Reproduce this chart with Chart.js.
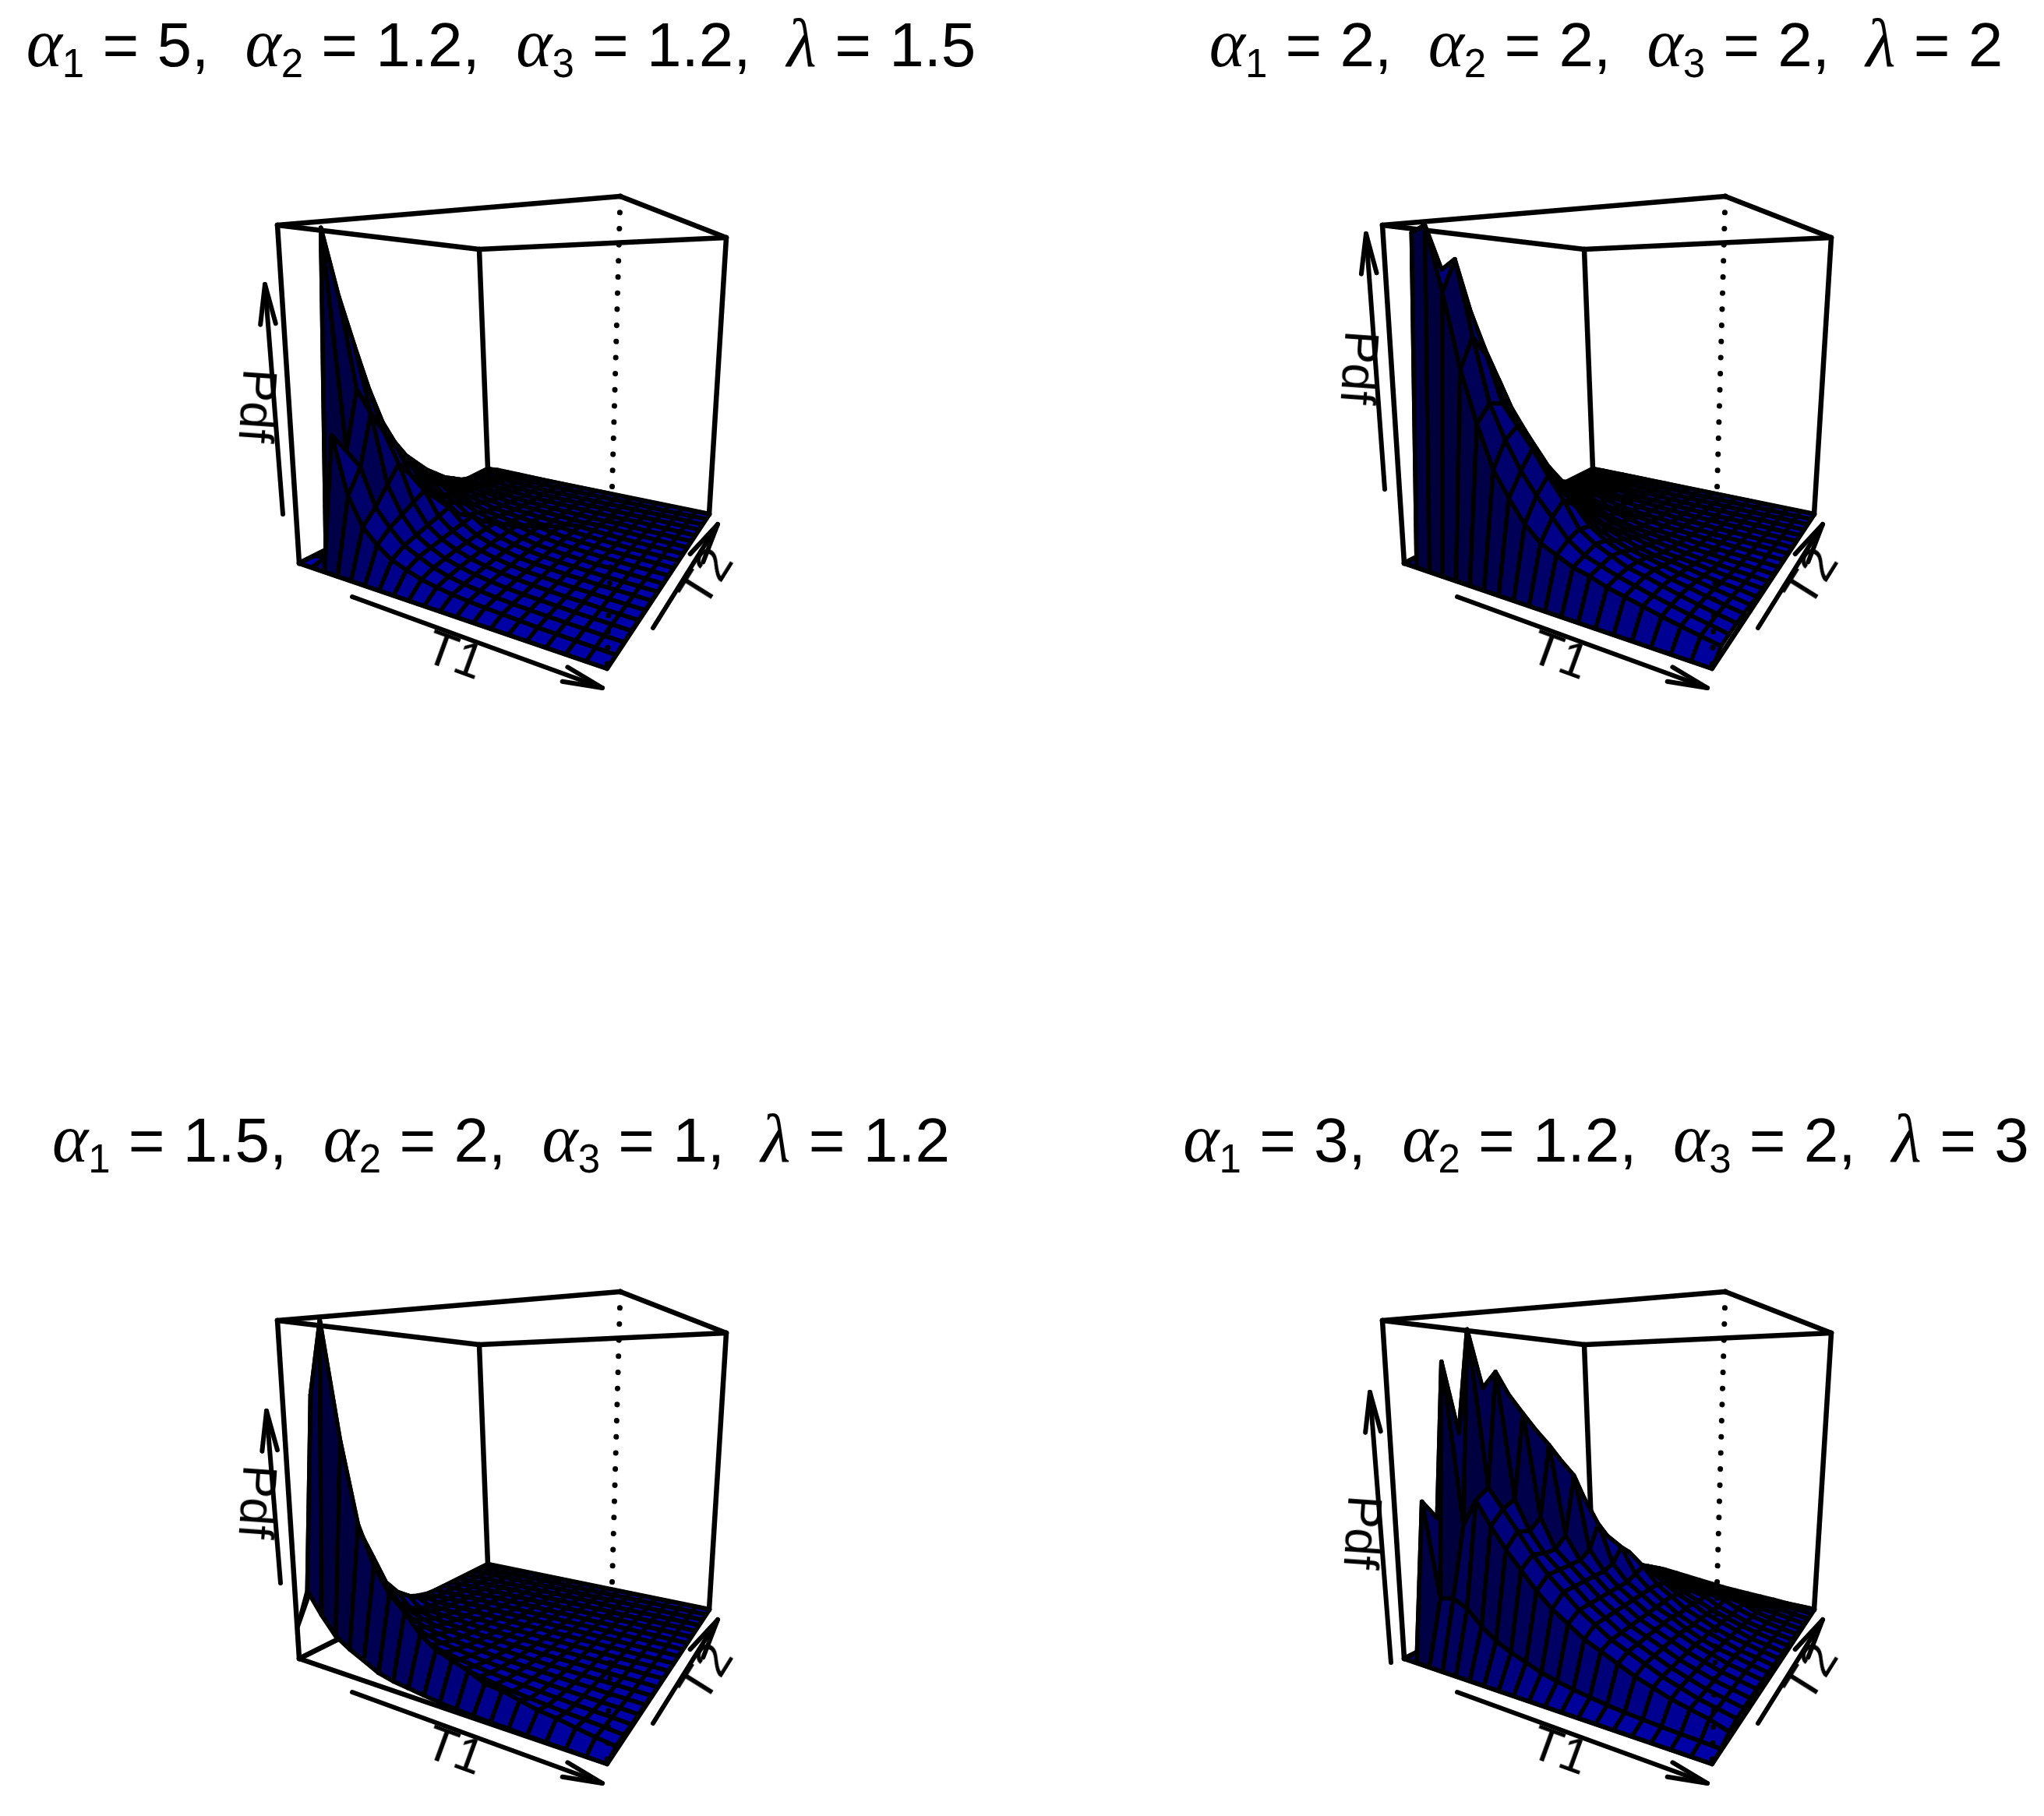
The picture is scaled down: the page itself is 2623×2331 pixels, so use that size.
<!DOCTYPE html>
<html lang="en">
<head>
<meta charset="UTF-8">
<title>Joint pdf surfaces</title>
<script src="https://cdn.jsdelivr.net/npm/chart.js"></script>
<style>
    html, body { margin: 0; background: #fff; }
    #page { position: relative; width: 2623px; height: 2331px; overflow: hidden; }
    canvas { position: absolute; }
    .title, .axis { position: absolute; font-family: "Liberation Sans", Arial, sans-serif; color: #000; white-space: pre; }
    .title { font-size: 80px; line-height: 80px; word-spacing: 1px; transform: translateX(-50%); }
    .title i { font-family: "Liberation Serif", serif; font-size: 88px; }
    .title sub { font-size: 51px; line-height: 0; vertical-align: -14px; }
    .axis { font-size: 63px; line-height: 63px; transform: translate(-50%, -50%) rotate(var(--rot)); }
</style>
</head>
<body>
<div id="page"></div>
<script>
// parameter sets shown above each panel: alpha1, alpha2, alpha3, lambda
const alpha1 = ['5', '2', '1.5', '3'];
const alpha2 = ['1.2', '2', '2', '1.2'];
const alpha3 = ['1.2', '2', '1', '2'];
const lambda = ['1.5', '2', '1.2', '3'];

// surface heights, % of the box height
// one line per T1 grid step, 20 values along T2
const pdfA = [
[0,0,0,0,0,0,0,0,0,0,0,0,0,0,0,0,0,0,0,0],
[0,1,100,79,63,48,36,28,22,18,14,11,8,6,4,3,2,1.5,1,.5],
[0,38,32,50,42,34,27,21,17,14,11,8,6,4.5,3,2,1.5,1,.7,.4],
[0,21,28,43,36,30,24,19,15,12,9,7,5,4,3,2,1.5,1,.7,.4],
[0,13,17,22,27,22,18,14,11,9,7,5,4,3,2,1.5,1,.8,.5,.3],
[0,9,12,14,16,18,14,11,9,7,5,4,3,2.3,1.7,1.2,.9,.6,.4,.2],
[0,6,8,9,10,11,12,8,6,5,3.6,2.8,2.2,1.7,1.2,.9,.6,.4,.3,.2],
[0,4.5,6,6.5,7,7.5,8,8.5,5,3.8,3,2.3,1.8,1.3,1,.7,.5,.3,.2,.1],
[0,3.2,4.2,4.6,5,5.2,5.4,5.5,5.5,3,2.3,1.8,1.4,1.1,.8,.6,.4,.3,.2,.1],
[0,2.4,3,3.4,3.6,3.8,3.9,3.9,3.9,3.8,1.8,1.4,1.1,.9,.6,.5,.3,.2,.1,.1],
[0,1.8,2.2,2.5,2.7,2.8,2.8,2.8,2.8,2.7,2.6,1.1,.9,.7,.5,.4,.3,.2,.1,.1],
[0,1.4,1.7,1.9,2,2,2,2,1.9,1.9,1.8,1.7,.7,.5,.4,.3,.2,.1,.1,.1],
[0,1.1,1.3,1.4,1.5,1.5,1.5,1.5,1.4,1.4,1.3,1.2,1.1,.4,.3,.2,.2,.1,.1,0],
[0,.9,1,1.1,1.2,1.2,1.2,1.1,1.1,1,1,.9,.8,.7,.3,.2,.1,.1,.1,0],
[0,.7,.8,.9,.9,.9,.9,.9,.8,.8,.7,.7,.6,.5,.5,.2,.1,.1,.1,0],
[0,.5,.6,.7,.7,.7,.7,.7,.6,.6,.5,.5,.4,.4,.3,.3,.1,.1,0,0],
[0,.4,.5,.5,.6,.6,.5,.5,.5,.4,.4,.3,.3,.3,.2,.2,.2,.1,0,0],
[0,.3,.4,.4,.4,.4,.4,.4,.3,.3,.3,.3,.2,.2,.2,.1,.1,.1,0,0],
[0,.2,.3,.3,.3,.3,.3,.3,.2,.2,.2,.2,.2,.1,.1,.1,.1,0,0,0],
[0,.1,.2,.2,.2,.2,.2,.2,.1,.1,.1,.1,.1,.1,.1,0,0,0,0,0]
];
const pdfB = [
[0,0,0,0,0,0,0,0,0,0,0,0,0,0,0,0,0,0,0,0],
[0,98,92,84,72,62,50,40,30,20,13,10,7,5,3,2,1.5,1,.5,.2],
[0,100,87,76,66,55,45,35,26,18,12,9,6,4,3,2,1.5,1,.5,.2],
[0,80,90,74,62,52,42,33,24,17,12,8,6,4,3,2,1.5,1,.5,.2],
[0,58,67,61,48,42,35,28,21,15,10,7,5,4,3,2,1.5,1,.5,.2],
[0,43,48,47,38,32,27,22,17,12,9,6,5,3.5,2.5,2,1.2,.8,.5,.2],
[0,31,38,41,30,25,21,17,13,10,7,5,4,3,2,1.5,1,.7,.4,.2],
[0,24,30,35,26,20,16,13,10,8,6,4,3,2.5,2,1.3,1,.6,.4,.2],
[0,18,24,28,23,17,13,10,8,6,5,3.5,2.5,2,1.5,1,.8,.5,.3,.1],
[0,14,19,22,19,14,11,8,6.5,5,4,3,2,1.6,1.2,.9,.6,.4,.3,.1],
[0,12,14,15,14,11,9,7,5.5,4,3,2.5,1.8,1.4,1,.7,.5,.4,.2,.1],
[0,10,11,12,11,9,7.5,6,4.5,3.5,2.5,2,1.5,1.1,.8,.6,.4,.3,.2,.1],
[0,9,9.5,10,9,7.5,6,5,3.8,3,2.2,1.7,1.3,.9,.7,.5,.4,.3,.2,.1],
[0,7.5,8,8,7.5,6.5,5,4,3.2,2.5,1.9,1.4,1,.8,.6,.4,.3,.2,.1,.1],
[0,6.5,6.8,7,6.5,5.5,4.5,3.5,2.7,2,1.5,1.2,.9,.6,.5,.3,.2,.2,.1,.1],
[0,5.5,5.7,5.8,5.3,4.5,3.8,3,2.2,1.7,1.3,1,.7,.5,.4,.3,.2,.1,.1,0],
[0,4.5,4.7,4.7,4.4,3.8,3,2.4,1.8,1.4,1,.8,.6,.4,.3,.2,.2,.1,.1,0],
[0,3.6,3.7,3.7,3.4,3,2.4,1.9,1.4,1.1,.8,.6,.5,.3,.2,.2,.1,.1,0,0],
[0,2.8,2.9,2.8,2.6,2.3,1.9,1.5,1.1,.8,.6,.5,.4,.3,.2,.1,.1,.1,0,0],
[0,2,2,2,1.8,1.5,1.2,1,.7,.5,.4,.3,.2,.1,.1,.1,0,0,0,0]
];
const pdfC = [
[9,18,24,26,24,18,12,8,6,3,1.5,.5,.2,.1,0,0,0,0,0,0],
[21,78,60,46,34,24,14,9,6,3.5,1.5,.6,.4,.3,.2,.1,.1,.1,0,0],
[15,100,48,30,20,13,8,4.5,2.5,1.5,1,.7,.5,.3,.2,.2,.1,.1,0,0],
[10,65,30,19,13,9,6,4,2.5,1.6,1,.8,.5,.4,.3,.2,.1,.1,0,0],
[7.5,41,20,13,9,6.5,4.5,3,2,1.4,1,.7,.5,.4,.3,.2,.1,.1,.1,0],
[5.5,30,14,9.5,7,5,3.5,2.5,1.8,1.2,.9,.7,.5,.4,.3,.2,.1,.1,.1,0],
[3.5,23,11,7.5,5.5,4,3,2.1,1.5,1.1,.8,.6,.4,.3,.2,.2,.1,.1,.1,0],
[2.5,19,9,6,4.5,3.3,2.5,1.8,1.3,1,.7,.5,.4,.3,.2,.2,.1,.1,.1,0],
[2,14,7.5,5,3.8,2.8,2.1,1.5,1.1,.8,.6,.5,.3,.3,.2,.1,.1,.1,0,0],
[1.5,11,6,4.2,3.2,2.4,1.8,1.3,1,.7,.5,.4,.3,.2,.2,.1,.1,.1,0,0],
[1,9.5,5,3.6,2.7,2,1.5,1.1,.8,.6,.5,.4,.3,.2,.1,.1,.1,0,0,0],
[.7,8,4.3,3,2.3,1.7,1.3,1,.7,.5,.4,.3,.2,.2,.1,.1,.1,0,0,0],
[.5,6,3.6,2.6,2,1.5,1.1,.8,.6,.5,.4,.3,.2,.1,.1,.1,0,0,0,0],
[.4,5.5,3,2.2,1.7,1.3,.9,.7,.5,.4,.3,.2,.2,.1,.1,.1,0,0,0,0],
[.3,4.5,2.6,1.9,1.4,1.1,.8,.6,.4,.3,.3,.2,.1,.1,.1,0,0,0,0,0],
[.2,3.5,2.2,1.6,1.2,.9,.7,.5,.4,.3,.2,.2,.1,.1,.1,0,0,0,0,0],
[.1,3,1.8,1.3,1,.8,.6,.4,.3,.2,.2,.1,.1,.1,0,0,0,0,0,0],
[.1,2.2,1.5,1.1,.8,.6,.5,.3,.3,.2,.1,.1,.1,0,0,0,0,0,0,0],
[0,1.5,1.2,.9,.7,.5,.4,.3,.2,.2,.1,.1,.1,0,0,0,0,0,0,0],
[0,1,.8,.6,.5,.4,.3,.2,.2,.1,.1,.1,0,0,0,0,0,0,0,0]
];
const pdfD = [
[0,0,0,0,0,0,0,0,0,0,0,0,0,0,0,0,0,0,0,0],
[0,46,40,36,32,28,24,20,17,14,12,10,8,7,6,5,4.5,4,3,2.5],
[0,18,88,66,52,43,36,30,25,21,18,15,13,11,9,8,7,6,5,3],
[0,19,39,98,80,60,47,38,32,27,23,19,16,13,11,10,8,7,6,4],
[0,17,47,50,85,78,58,44,35,29,24,20,17,14,12,10,9,7,6,4],
[0,13,40,44,46,72,67,50,38,30,25,21,17,15,12,10,9,7,6,4],
[0,10,34,38,37,40,62,57,43,33,27,22,18,15,13,10,9,7,6,4],
[0,8,29,32,31,31,34,52,44,33,26,22,18,15,13,11,9,7,6,4],
[0,6.5,24,27,27,27,27,29,36,31,25,21,17,15,13,11,9,7,5,3.5],
[0,5,20,23,23,23,23,23,24,28,25,19,16,14,12,10,8,6,4.5,3],
[0,4,17,19,19,19,19,19,19,20,21,18,14,12,10,8.5,7,5.5,4,2.5],
[0,3.2,14,16,16,16,16,16,16,16,16,15,13,10,8.5,7,5.5,4.5,3,2],
[0,2.6,12,13,13,13,13,13,13,13,13,12,11,10,7.5,6,4.5,3.5,2.5,1.5],
[0,2,10,11,11,11,11,11,11,10,10,10,9,9,8,5,3.8,3,2,1.2],
[0,1.6,8,9,9,9,9,9,8.5,8,8,7.5,7,6.5,7,6,3,2.4,1.6,1],
[0,1.3,6.5,7,7,7,7,7,6.5,6.5,6,6,5.5,5,5,5,3.5,1.8,1.2,.8],
[0,1,5,5.5,5.5,5.5,5.5,5.5,5,5,4.5,4.5,4,3.5,3.5,3,2.5,2,1,.6],
[0,.8,4,4,4,4,4,4,4,3.5,3.5,3,3,2.5,2.5,2,2,1.5,.8,.3],
[0,.6,3,3,3,3,3,3,2.8,2.6,2.4,2.2,2,1.8,1.6,1.4,1.2,1,.8,.2],
[0,.4,1.5,2,2,2,2,2,1.8,1.6,1.5,1.3,1.2,1,.9,.7,.6,.4,.3,.1]
];
const surfaces = [pdfA, pdfB, pdfC, pdfD];

// panel layout
const panelX = [0, 1418, 0, 1418];
const panelY = [0, 0, 1406, 1406];
const panelW = [1418, 1205, 1418, 1205];
const panelH = [1406, 1406, 925, 925];

// the persp view: box corners on screen (A, B, C, D), floor and top
const floorQuad = [[384, 723], [779, 858], [910, 660], [626, 602]];
const topQuad = [[356, 289], [796, 252], [932, 305], [615, 320]];

// Pdf axis arrow differs per panel: tail, head, label centre
const pdfArrow = [
    [[363, 660], [340, 365], [331, 521]],
    [[359, 628], [335, 300], [327, 472]],
    [[360, 626], [342, 405], [331, 522]],
    [[367, 728], [340, 381], [331, 561]]
];
const t1Arrow = [[452, 766], [773, 883]];
const t2Arrow = [[838, 806], [921, 673]];

const BOX_LINE = 6.5;
const MESH_LINE = 5.5;

// unit square to quad, projective
function quadPoint(q, u, v) {
    const [p0, p1, p2, p3] = q;
    const sx = p0[0] - p1[0] + p2[0] - p3[0], sy = p0[1] - p1[1] + p2[1] - p3[1];
    const dx1 = p1[0] - p2[0], dx2 = p3[0] - p2[0], dy1 = p1[1] - p2[1], dy2 = p3[1] - p2[1];
    const den = dx1 * dy2 - dx2 * dy1;
    const g = (sx * dy2 - dx2 * sy) / den, h = (dx1 * sy - sx * dy1) / den;
    const a = p1[0] - p0[0] + g * p1[0], b = p3[0] - p0[0] + h * p3[0];
    const d = p1[1] - p0[1] + g * p1[1], e = p3[1] - p0[1] + h * p3[1];
    const w = g * u + h * v + 1;
    return [(a * u + b * v + p0[0]) / w, (d * u + e * v + p0[1]) / w];
}

// T1 (u), T2 (v) and Pdf (w), all 0..1, to page position in the panel
function project(u, v, w) {
    const f = quadPoint(floorQuad, u, v), t = quadPoint(topQuad, u, v);
    return { x: f[0] + (t[0] - f[0]) * w, y: f[1] + (t[1] - f[1]) * w };
}

function lineSet(points, extra) {
    return Object.assign({
        data: points, showLine: true, fill: false, borderColor: '#000', borderWidth: BOX_LINE,
        pointRadius: 0, clip: false, borderCapStyle: 'round', borderJoinStyle: 'round'
    }, extra || {});
}

function arrowSets(tail, head) {
    const ang = Math.atan2(head[1] - tail[1], head[0] - tail[0]);
    const barb = s => ({ x: head[0] - 52 * Math.cos(ang + s), y: head[1] - 52 * Math.sin(ang + s) });
    const tip = { x: head[0], y: head[1] };
    return [
        lineSet([{ x: tail[0], y: tail[1] }, tip], { borderWidth: 6 }),
        lineSet([barb(0.19), tip, barb(-0.19)], { borderWidth: 6 })
    ];
}

// flat facets come out bright, steep ones dark
function facetColor(z, i, j, n) {
    const K = 0.6 * (n - 1) / 100;
    const dzu = (z[i + 1][j] + z[i + 1][j + 1] - z[i][j] - z[i][j + 1]) / 2 * K;
    const dzv = (z[i][j + 1] + z[i + 1][j + 1] - z[i][j] - z[i + 1][j]) / 2 * K;
    const len = Math.hypot(dzu, dzv, 1);
    const cos = (0.3 * dzu - 0.3 * dzv + 0.9) / len;
    const b = Math.round(178 * Math.pow((1 + cos) / 2, 1.1));
    return 'rgb(0,0,' + b + ')';
}

function buildDatasets(k) {
    const z = surfaces[k], n = z.length;
    const back = [];
    const corners = [[0, 0, 0], [1, 0, 0], [1, 1, 0], [0, 1, 0], [0, 0, 1], [1, 0, 1], [1, 1, 1], [0, 1, 1]]
        .map(c => project(c[0], c[1], c[2]));
    [[0, 1], [1, 2], [2, 3], [3, 0], [4, 5], [5, 6], [6, 7], [7, 4], [0, 4], [2, 6], [3, 7]].forEach(e => {
        back.push(lineSet([corners[e[0]], corners[e[1]]]));
    });
    // back to front: far corner is T1 = 0, T2 = max
    for (let i = 0; i < n - 1; i++) {
        for (let j = n - 2; j >= 0; j--) {
            const pt = (a, b) => project(a / (n - 1), b / (n - 1), z[a][b] / 100);
            const poly = [pt(i, j), pt(i + 1, j), pt(i + 1, j + 1), pt(i, j + 1), pt(i, j)];
            back.push(lineSet(poly, { fill: 'shape', backgroundColor: facetColor(z, i, j, n), borderWidth: MESH_LINE }));
        }
    }
    back.push(lineSet([corners[5], corners[1]], { borderDash: [0.1, 20.6], borderWidth: 7 }));
    arrowSets(pdfArrow[k][0], pdfArrow[k][1]).forEach(d => back.push(d));
    arrowSets(t1Arrow[0], t1Arrow[1]).forEach(d => back.push(d));
    arrowSets(t2Arrow[0], t2Arrow[1]).forEach(d => back.push(d));
    return back.reverse(); // Chart.js paints the first dataset last
}

const page = document.getElementById('page');

function addAxisLabel(k, text, pos, rot) {
    const el = document.createElement('div');
    el.className = 'axis';
    el.textContent = text;
    el.style.left = (panelX[k] + pos[0]) + 'px';
    el.style.top = (panelY[k] + pos[1]) + 'px';
    el.style.setProperty('--rot', rot + 'deg');
    page.appendChild(el);
}

surfaces.forEach((z, k) => {
    const canvas = document.createElement('canvas');
    canvas.width = panelW[k];
    canvas.height = panelH[k];
    canvas.style.left = panelX[k] + 'px';
    canvas.style.top = panelY[k] + 'px';
    page.appendChild(canvas);

    new Chart(canvas.getContext('2d'), {
        type: 'scatter',
        data: { datasets: buildDatasets(k) },
        options: {
            responsive: false,
            animation: false,
            events: [],
            layout: { padding: 0 },
            plugins: { legend: { display: false }, tooltip: { enabled: false } },
            scales: {
                x: { type: 'linear', min: 0, max: panelW[k], display: false },
                y: { type: 'linear', min: 0, max: panelH[k], reverse: true, display: false }
            }
        }
    });

    const title = document.createElement('div');
    title.className = 'title';
    title.style.left = (panelX[k] + 643) + 'px';
    title.style.top = (panelY[k] + 16) + 'px';
    title.innerHTML = '<i>\u03b1</i><sub>1</sub> = ' + alpha1[k] + ',  <i>\u03b1</i><sub>2</sub> = ' + alpha2[k] +
        ',  <i>\u03b1</i><sub>3</sub> = ' + alpha3[k] + ',  <i>\u03bb</i> = ' + lambda[k];
    page.appendChild(title);

    addAxisLabel(k, 'Pdf', pdfArrow[k][2], 94);
    addAxisLabel(k, 'T1', [584, 840], 20);
    addAxisLabel(k, 'T2', [905, 740], -58);
});
</script>
</body>
</html>
